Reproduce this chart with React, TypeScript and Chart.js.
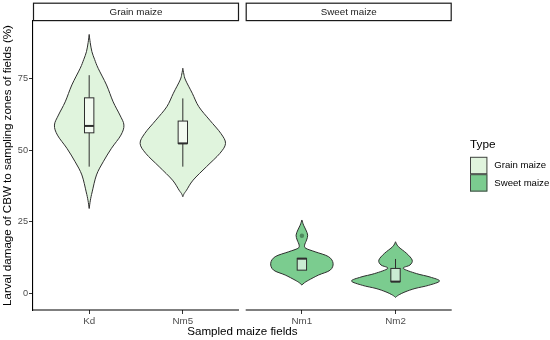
import React, { useEffect, useRef } from "react";
import { Chart, registerables } from "chart.js";

Chart.register(...registerables);

// ---------- data ----------
const panelNames = ["Grain maize", "Sweet maize"];
const fields = ["Kd", "Nm5", "Nm1", "Nm2"];
const fieldType = ["Grain maize", "Grain maize", "Sweet maize", "Sweet maize"];
const fieldPanel = [0, 0, 1, 1];
const fieldSlot = [1, 2, 1, 2];
const yTicks = [0, 25, 50, 75];
const typeNames = ["Grain maize", "Sweet maize"];

// violin density profiles: damage value (%) and half-width (category units)
const kdY = [90.3, 87.5, 84.3, 81.5, 78.5, 72.7, 66.8, 62.2, 58.7, 55.2, 50.6, 45.9, 41.3, 35.4, 32.5, 29.6];
const kdW = [0, 0.011, 0.029, 0.059, 0.096, 0.185, 0.256, 0.328, 0.371, 0.339, 0.238, 0.15, 0.078, 0.032, 0.013, 0];
const nm5Y = [78.5, 76.5, 74.4, 69.8, 65.1, 60.4, 55.8, 52.3, 48.8, 44.2, 39.5, 36.0, 34.8, 33.7];
const nm5W = [0, 0.011, 0.029, 0.101, 0.171, 0.288, 0.406, 0.456, 0.395, 0.253, 0.11, 0.04, 0.014, 0];
const nm1Y = [25.6, 23.8, 22.1, 20.3, 18.6, 16.8, 15.7, 14.5, 12.8, 10.5, 8.1, 6.4, 4.6, 3.7, 2.9];
const nm1W = [0, 0.018, 0.043, 0.062, 0.05, 0.029, 0.043, 0.142, 0.285, 0.333, 0.302, 0.178, 0.072, 0.027, 0];
const nm2Y = [18.0, 16.3, 13.9, 11.6, 9.9, 8.7, 6.9, 5.7, 4.3, 2.8, 1.7, 0.5, -0.6, -1.4];
const nm2W = [0, 0.03, 0.12, 0.178, 0.155, 0.083, 0.224, 0.369, 0.47, 0.353, 0.208, 0.101, 0.032, 0];

const violinY = [kdY, nm5Y, nm1Y, nm2Y];
const violinW = [kdW, nm5W, nm1W, nm2W];

// box plot statistics
const whiskerLow = [44.2, 44.2, 8.1, 4.1];
const boxQ1 = [56.0, 52.3, 8.1, 4.1];
const boxMedian = [58.4, 52.3, 12.1, 4.1];
const boxQ3 = [68.2, 60.1, 12.2, 8.7];
const whiskerHigh = [76.1, 68.0, 12.2, 12.0];
const outlierField = ["Nm1"];
const outlierValue = [20.1];

// ---------- layout constants ----------
const EXPAND = 0.6;
const SPAN = 1 + 2 * EXPAND; // 2.2
const GAP = 0.0716;
const Y_MIN = -5.8;
const Y_MAX = 95;
const BOX_W = 0.1;
const FONT = "'Liberation Sans', Arial, Helvetica, sans-serif";
const typeColors: Record<string, string> = {
  "Grain maize": "#e0f4dd",
  "Sweet maize": "#7bcc8f",
};

const xPos = (i: number) => fieldPanel[i] * (SPAN + GAP) + fieldSlot[i];
const panelRange = (p: number) => [p * (SPAN + GAP) + 1 - EXPAND, p * (SPAN + GAP) + 1 - EXPAND + SPAN];

function smoothThrough(ctx: CanvasRenderingContext2D, pts: number[][], moveFirst: boolean) {
  if (moveFirst) ctx.moveTo(pts[0][0], pts[0][1]);
  else ctx.lineTo(pts[0][0], pts[0][1]);
  for (let i = 0; i < pts.length - 1; i++) {
    const p0 = pts[Math.max(0, i - 1)];
    const p1 = pts[i];
    const p2 = pts[i + 1];
    const p3 = pts[Math.min(pts.length - 1, i + 2)];
    const c1x = p1[0] + (p2[0] - p0[0]) / 6;
    const c1y = p1[1] + (p2[1] - p0[1]) / 6;
    const c2x = p2[0] - (p3[0] - p1[0]) / 6;
    const c2y = p2[1] - (p3[1] - p1[1]) / 6;
    ctx.bezierCurveTo(c1x, c1y, c2x, c2y, p2[0], p2[1]);
  }
}

const facetPlugin = {
  id: "facetViolins",
  beforeDatasetsDraw(chart: any) {
    const { ctx, scales } = chart;
    const xs = scales.x;
    const ys = scales.y;
    const ppu = xs.getPixelForValue(1) - xs.getPixelForValue(0);
    ctx.save();
    // violins
    fields.forEach((_, i) => {
      const cx = xs.getPixelForValue(xPos(i));
      const Y = violinY[i];
      const W = violinW[i];
      const right = Y.map((v, k) => [cx + W[k] * ppu, ys.getPixelForValue(v)]);
      const left = Y.map((v, k) => [cx - W[k] * ppu, ys.getPixelForValue(v)]).reverse();
      ctx.beginPath();
      smoothThrough(ctx, right, true);
      smoothThrough(ctx, left, false);
      ctx.closePath();
      ctx.fillStyle = typeColors[fieldType[i]];
      ctx.fill();
      ctx.lineWidth = 1;
      ctx.strokeStyle = "#2e2e2e";
      ctx.stroke();
    });
    // boxes
    fields.forEach((_, i) => {
      const cx = xs.getPixelForValue(xPos(i));
      const hw = (BOX_W * ppu) / 2;
      const yq1 = ys.getPixelForValue(boxQ1[i]);
      const yq3 = ys.getPixelForValue(boxQ3[i]);
      const ymed = ys.getPixelForValue(boxMedian[i]);
      const ylo = ys.getPixelForValue(whiskerLow[i]);
      const yhi = ys.getPixelForValue(whiskerHigh[i]);
      ctx.strokeStyle = "#2e2e2e";
      ctx.lineWidth = 1;
      ctx.beginPath();
      ctx.moveTo(cx, yq3);
      ctx.lineTo(cx, yhi);
      ctx.moveTo(cx, yq1);
      ctx.lineTo(cx, ylo);
      ctx.stroke();
      ctx.fillStyle = "rgba(255,255,255,0.6)";
      ctx.fillRect(cx - hw, yq3, 2 * hw, yq1 - yq3);
      ctx.strokeRect(cx - hw, yq3, 2 * hw, yq1 - yq3);
      ctx.lineWidth = 2;
      ctx.beginPath();
      ctx.moveTo(cx - hw, ymed);
      ctx.lineTo(cx + hw, ymed);
      ctx.stroke();
    });
    ctx.restore();
  },
  afterDraw(chart: any) {
    const { ctx, chartArea, scales } = chart;
    const xs = scales.x;
    ctx.save();
    // x axis lines per panel and strips
    panelNames.forEach((name, p) => {
      const [a, b] = panelRange(p);
      const x1 = xs.getPixelForValue(a);
      const x2 = xs.getPixelForValue(b);
      ctx.strokeStyle = "#000000";
      ctx.lineWidth = 1.1;
      ctx.beginPath();
      ctx.moveTo(x1, chartArea.bottom);
      ctx.lineTo(x2, chartArea.bottom);
      ctx.stroke();
      // strip
      const top = chartArea.top - 17.8;
      const h = 17.4;
      ctx.fillStyle = "#ffffff";
      ctx.fillRect(x1 + 0.5, top, x2 - x1 - 1, h);
      ctx.strokeStyle = "#1a1a1a";
      ctx.lineWidth = 1.2;
      ctx.strokeRect(x1 + 0.5, top, x2 - x1 - 1, h);
      ctx.fillStyle = "#1a1a1a";
      ctx.font = `9.8px ${FONT}`;
      ctx.textAlign = "center";
      ctx.textBaseline = "middle";
      ctx.fillText(name, (x1 + x2) / 2, top + h / 2 + 0.5);
    });
    // legend
    const lx = 470;
    ctx.fillStyle = "#000000";
    ctx.font = `11.8px ${FONT}`;
    ctx.textAlign = "left";
    ctx.textBaseline = "middle";
    ctx.fillText("Type", lx, 145);
    typeNames.forEach((t, k) => {
      const ky = 156.8 + k * 17.4;
      ctx.fillStyle = typeColors[t];
      ctx.fillRect(lx, ky, 17.4, 17.4);
      ctx.strokeStyle = "#444444";
      ctx.lineWidth = 1;
      ctx.strokeRect(lx + 0.5, ky + 0.5, 16.4, 16.4);
      ctx.fillStyle = "#000000";
      ctx.font = `9.6px ${FONT}`;
      ctx.fillText(t, lx + 24.3, ky + 8.9);
    });
    ctx.restore();
  },
};

export default function App() {
  const ref = useRef<HTMLCanvasElement | null>(null);
  useEffect(() => {
    if (!ref.current) return;
    const xMax = panelRange(1)[1];
    const chart = new Chart(ref.current, {
      type: "scatter",
      data: {
        datasets: [
          {
            data: outlierField.map((f, k) => ({ x: xPos(fields.indexOf(f)), y: outlierValue[k] })),
            pointRadius: 2.2,
            pointBackgroundColor: "rgba(20,50,30,0.45)",
            pointBorderWidth: 0,
          },
        ],
      },
      options: {
        animation: false,
        responsive: false,
        layout: { padding: { top: 21, right: 98.3, left: 0, bottom: 0 } },
        plugins: { legend: { display: false }, tooltip: { enabled: false } },
        scales: {
          x: {
            type: "linear",
            min: 1 - EXPAND,
            max: xMax,
            afterBuildTicks: (s: any) => {
              s.ticks = fields.map((_, i) => ({ value: xPos(i) }));
            },
            afterFit: (s: any) => {
              s.height = 30;
              s.paddingLeft = 0;
              s.paddingRight = 0;
            },
            ticks: {
              autoSkip: false,
              maxRotation: 0,
              padding: 1,
              color: "#4d4d4d",
              font: { family: FONT, size: 9.8 },
              callback: (_v: any, idx: number) => fields[idx],
            },
            grid: { display: true, drawOnChartArea: false, drawTicks: true, tickLength: 4, color: "#333333", lineWidth: 1 },
            border: { display: false },
            title: {
              display: true,
              text: "Sampled maize fields",
              color: "#000000",
              font: { family: FONT, size: 11.6 },
              padding: { top: 0, bottom: 1.4 },
            },
          },
          y: {
            type: "linear",
            min: Y_MIN,
            max: Y_MAX,
            afterBuildTicks: (s: any) => {
              s.ticks = yTicks.map((v) => ({ value: v }));
            },
            afterFit: (s: any) => {
              s.width = 33;
              s.paddingTop = 0;
              s.paddingBottom = 0;
            },
            ticks: {
              padding: 1,
              color: "#4d4d4d",
              font: { family: FONT, size: 9.2 },
              callback: (v: any) => String(v),
            },
            grid: { display: true, drawOnChartArea: false, drawTicks: true, tickLength: 4, color: "#333333", lineWidth: 1 },
            border: { display: true, color: "#000000", width: 1.1 },
            title: {
              display: true,
              text: "Larval damage of CBW to sampling zones of fields (%)",
              color: "#000000",
              font: { family: FONT, size: 11.6 },
              padding: { top: 0.6, bottom: 0 },
            },
          },
        },
      },
      plugins: [facetPlugin],
    } as any);
    return () => chart.destroy();
  }, []);
  return (
    <div style={{ position: "absolute", left: 0, top: 0, width: 550, height: 340, background: "#ffffff" }}>
      <canvas ref={ref} width={550} height={340} />
    </div>
  );
}
